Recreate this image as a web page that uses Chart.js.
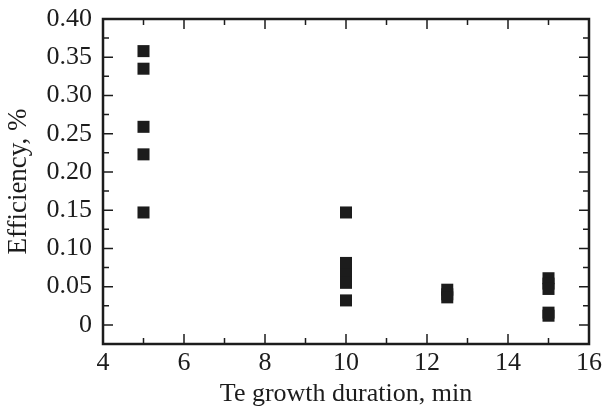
<!DOCTYPE html>
<html>
<head>
<meta charset="utf-8">
<script src="https://cdn.jsdelivr.net/npm/chart.js@4/dist/chart.umd.min.js"></script>
<style>
  html, body { margin: 0; padding: 0; background: #fff; }
  #wrap { width: 604px; height: 411px; }
</style>
</head>
<body>
<div id="wrap"><canvas id="eff"></canvas></div>
<script>
// growth duration (min) and measured efficiency (%)
const durations  = [5, 5, 5, 5, 5, 10, 10, 10, 10, 10, 10, 10, 12.5, 12.5, 12.5, 15, 15, 15, 15, 15];
const efficiency = [0.358, 0.335, 0.259, 0.223, 0.147, 0.147, 0.081, 0.074, 0.066, 0.060, 0.055, 0.032, 0.046, 0.040, 0.036, 0.061, 0.054, 0.047, 0.016, 0.012];

const xTicks = [4, 6, 8, 10, 12, 14, 16];
const yTicks = [0, 0.05, 0.10, 0.15, 0.20, 0.25, 0.30, 0.35, 0.40];

const INK = '#1c1c1c';
const FONT = '"Liberation Serif", "Times New Roman", serif';

// frame with inward major/minor ticks on all four sides
const frameTicks = {
    id: 'frameTicks',
    afterDraw(chart) {
        const { ctx, chartArea: a, scales: { x, y } } = chart;
        ctx.save();
        ctx.strokeStyle = INK;
        ctx.lineWidth = 1.5;
        const major = 10, minor = 6;
        for (let v = 4; v <= 16; v += 1) {
            const px = x.getPixelForValue(v);
            const len = v % 2 === 0 ? major : minor;
            ctx.beginPath();
            ctx.moveTo(px, a.bottom); ctx.lineTo(px, a.bottom - len);
            ctx.moveTo(px, a.top); ctx.lineTo(px, a.top + len);
            ctx.stroke();
        }
        for (let i = 0; i <= 16; i++) {
            const v = i * 0.025;
            const py = y.getPixelForValue(v);
            const len = i % 2 === 0 ? major : minor;
            ctx.beginPath();
            ctx.moveTo(a.left, py); ctx.lineTo(a.left + len, py);
            ctx.moveTo(a.right, py); ctx.lineTo(a.right - len, py);
            ctx.stroke();
        }
        ctx.lineWidth = 2.5;
        ctx.strokeRect(a.left, a.top, a.right - a.left, a.bottom - a.top);
        ctx.restore();
    }
};

new Chart(document.getElementById('eff'), {
    type: 'scatter',
    data: {
        datasets: [{
            data: durations.map((d, i) => ({ x: d, y: efficiency[i] })),
            pointStyle: 'rect',
            pointRadius: 8.5,
            pointHoverRadius: 8.5,
            backgroundColor: INK,
            borderColor: INK,
            borderWidth: 0,
        }],
    },
    options: {
        responsive: true, maintainAspectRatio: false, animation: false,
        layout: { autoPadding: false, padding: { top: 19, right: 15, left: 0, bottom: 0 } },
        plugins: { legend: { display: false }, tooltip: { enabled: false } },
        scales: {
            x: {
                type: 'linear', min: 4, max: 16,
                afterBuildTicks: s => { s.ticks = xTicks.map(v => ({ value: v })); },
                afterFit: s => { s.height = 67; s.paddingLeft = 0; s.paddingRight = 0; },
                grid: { display: false, drawTicks: false },
                border: { display: false },
                ticks: { color: INK, font: { family: FONT, size: 26 }, padding: 4, maxRotation: 0 },
                title: { display: true, text: 'Te growth duration, min', color: INK, font: { family: FONT, size: 26 }, padding: { top: 0, bottom: 1 } },
            },
            y: {
                type: 'linear', min: -0.025, max: 0.40,
                afterBuildTicks: s => { s.ticks = yTicks.map(v => ({ value: v })); },
                afterFit: s => { s.width = 103; s.paddingTop = 0; s.paddingBottom = 0; },
                grid: { display: false, drawTicks: false },
                border: { display: false },
                ticks: {
                    color: INK, font: { family: FONT, size: 26 }, padding: 11,
                    callback: v => v === 0 ? '0' : v.toFixed(2),
                },
                title: { display: true, text: 'Efficiency, %', color: INK, font: { family: FONT, size: 27 }, padding: { top: 3, bottom: 0 } },
            },
        },
    },
    plugins: [frameTicks],
});
</script>
</body>
</html>
